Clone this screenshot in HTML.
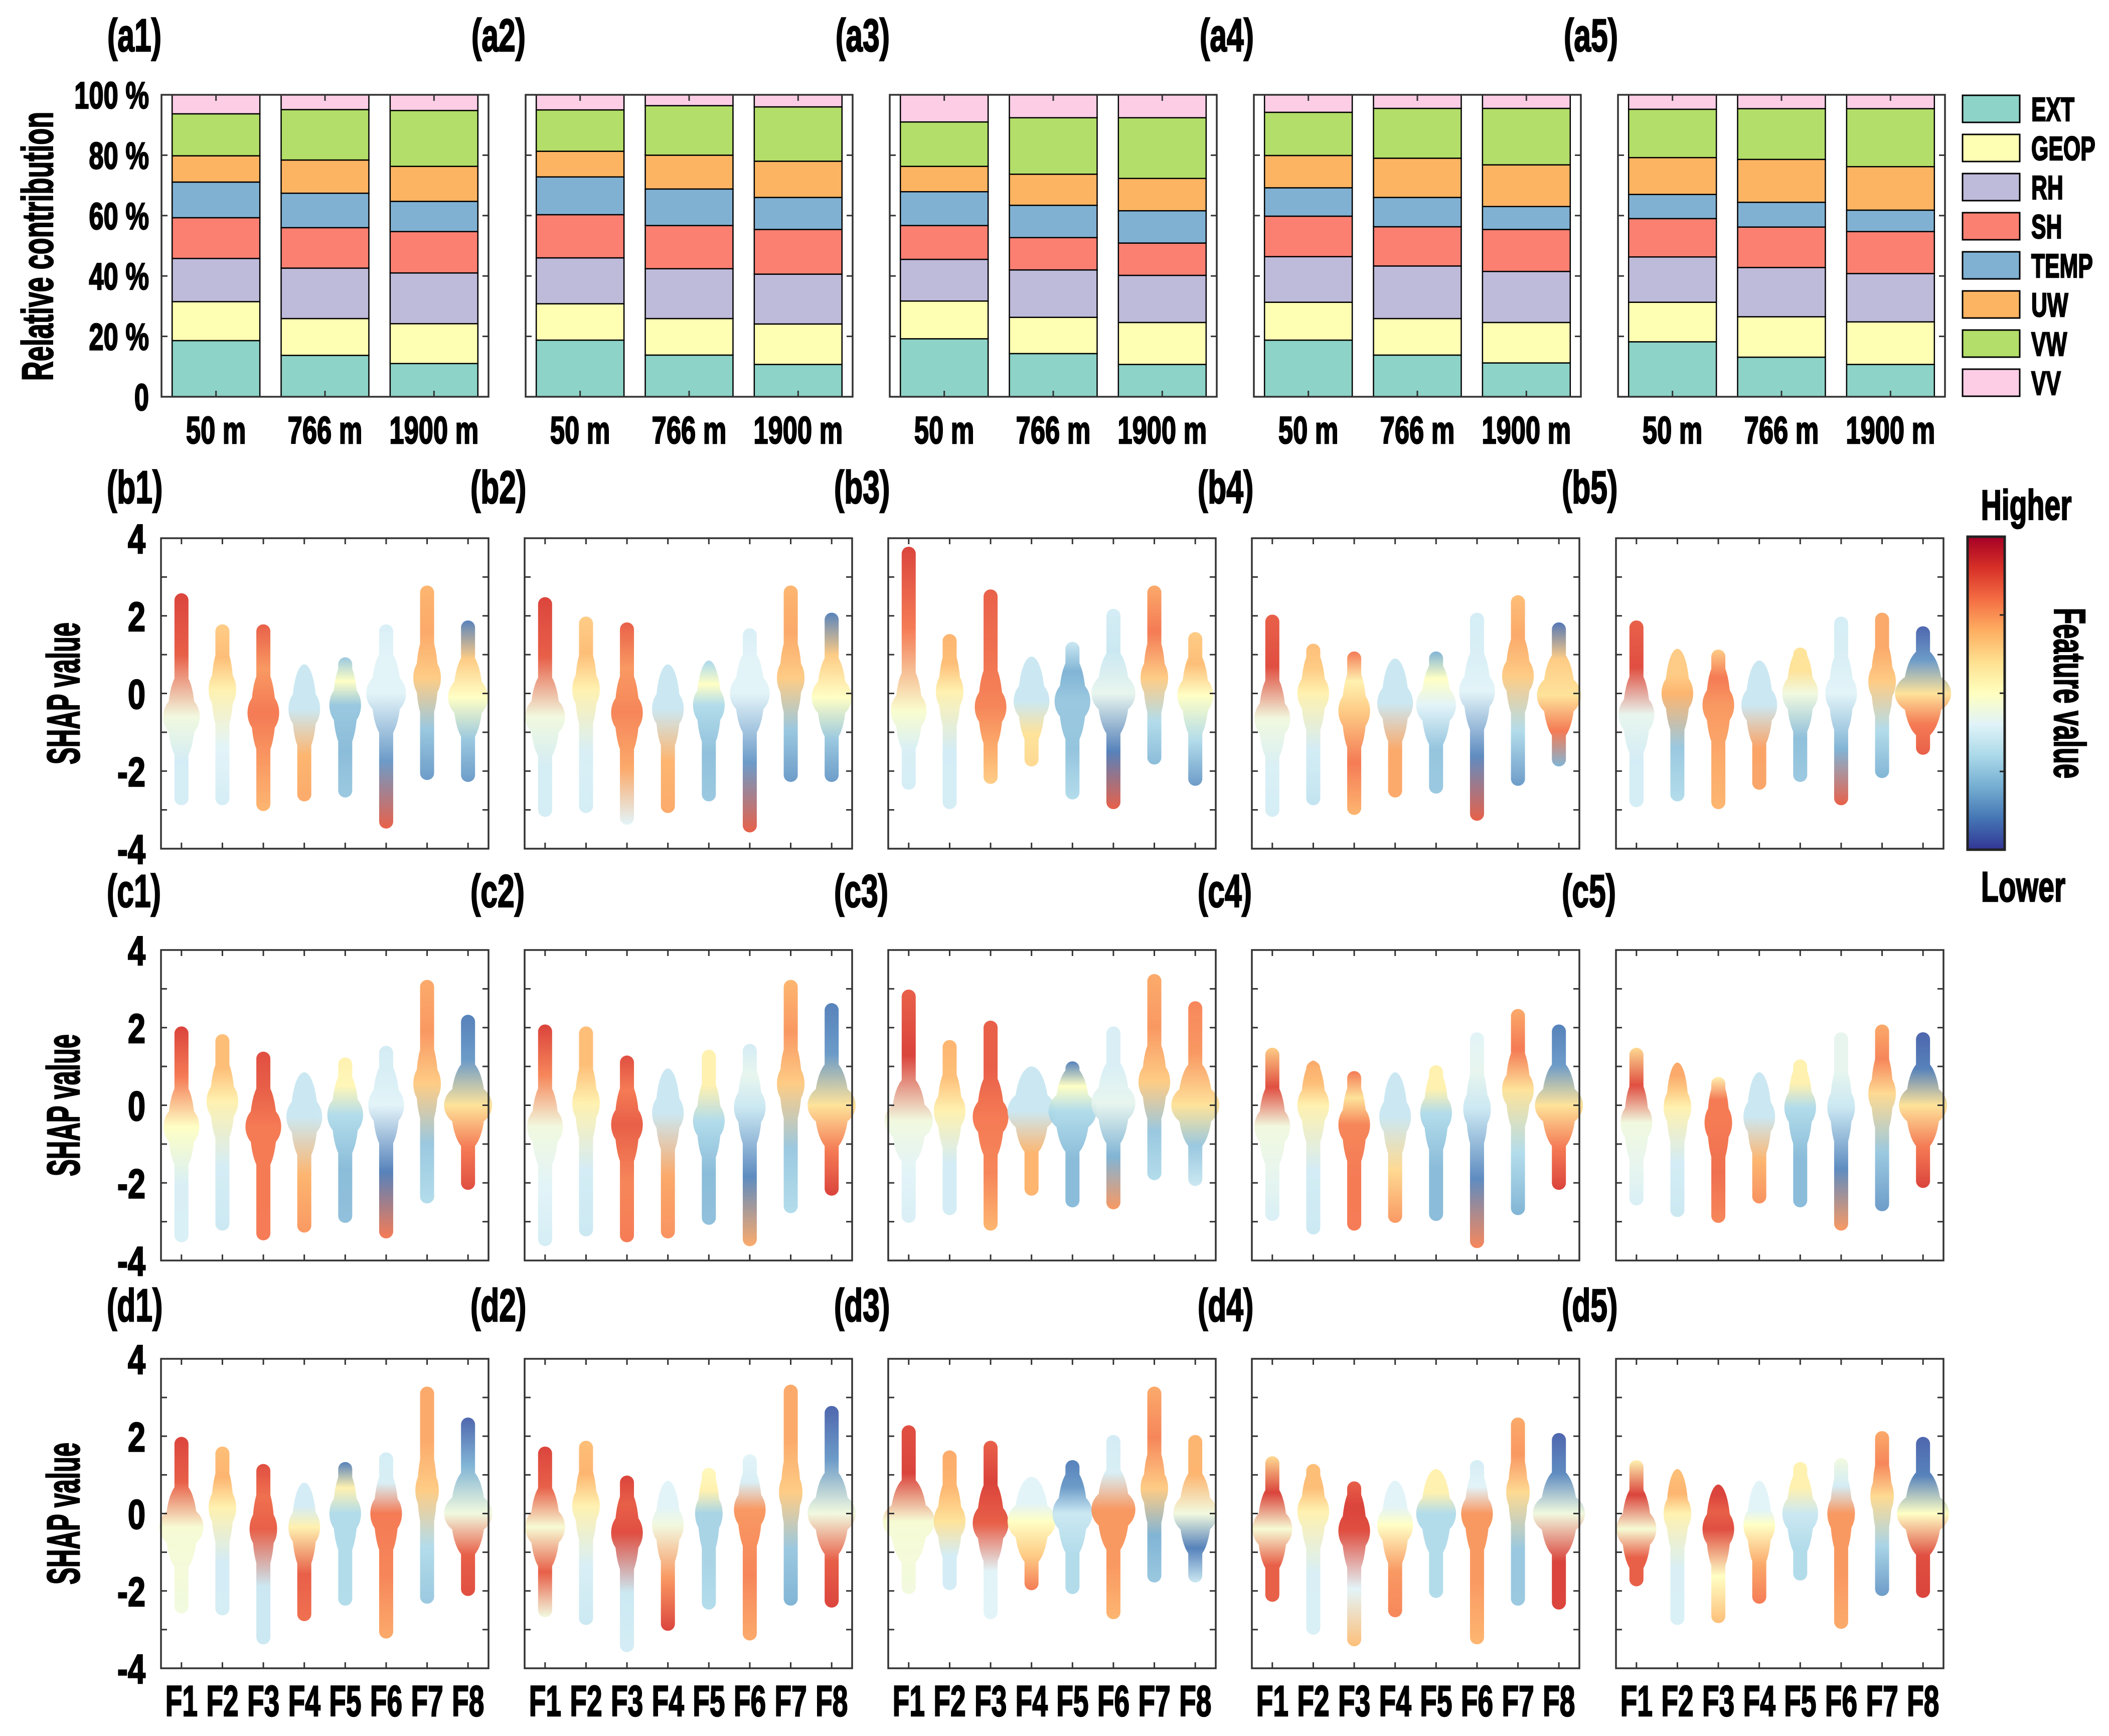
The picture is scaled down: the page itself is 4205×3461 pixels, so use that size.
<!DOCTYPE html>
<html><head><meta charset="utf-8"><style>
html,body{margin:0;padding:0;background:#fff;}
svg{display:block;}
text{font-family:"Liberation Sans",sans-serif;font-weight:bold;fill:#000;stroke:#000;stroke-width:2.5;}
</style></head><body>
<svg id="fig" xmlns="http://www.w3.org/2000/svg" width="4205" height="3461" viewBox="0 0 4205 3461"></svg>
<script>
// ---------- DATA ----------
const heights = ["50 m","766 m","1900 m"];
const legendLabels = ["EXT","GEOP","RH","SH","TEMP","UW","VW","VV"];
const legendColors = ["#8dd3c7","#ffffb3","#bebada","#fb8072","#80b1d3","#fdb462","#b3de69","#fccde5"];
const pctTicks = ["0","20 %","40 %","60 %","80 %","100 %"];
const shapTicks = ["-4","-2","0","2","4"];
const featureLabels = ["F1","F2","F3","F4","F5","F6","F7","F8"];
// cumulative percent tops per height (EXT..VV)
const cumA1 = [[18.6,31.5,45.8,59.3,71.1,79.8,93.7,100],[13.7,25.9,42.6,56.0,67.4,78.4,95.1,100],[11.0,24.2,41.0,54.7,64.7,76.3,94.8,100]];
const cumA2 = [[18.75,30.8,46,60.3,72.8,81.3,95,100],[13.8,25.9,42.4,56.7,68.8,80,96.4,100],[10.7,24.1,40.6,55.4,66,78,96,100]];
const cumA3 = [[19.2,31.7,45.5,56.7,67.9,76.3,91,100],[14.3,26.3,42,52.7,63.4,73.7,92.4,100],[10.7,24.6,40.2,50.9,61.6,72.3,92.4,100]];
const cumA4 = [[18.75,31.3,46.4,59.8,69.2,79.9,94.2,100],[13.8,25.9,43.3,56.3,66,79,95.5,100],[11.2,24.6,41.5,55.4,63,76.8,95.5,100]];
const cumA5 = [[18.2,31.3,46.3,59,67,79.2,95.2,100],[13.1,26.5,42.8,56.2,64.4,78.6,95.4,100],[10.7,24.8,40.8,54.7,61.8,76.2,95.4,100]];
// SHAP columns: [max, min, bulge centre, bulge half-width (feature units), feature value top, upper, centre, lower, bottom]
const shapB1 = [[2.4,-2.7,-0.6,0.41,0.9,0.85,0.45,0.37,0.37],[1.6,-2.7,0.1,0.3,0.65,0.68,0.55,0.4,0.37],[1.6,-2.85,-0.5,0.35,0.85,0.75,0.8,0.75,0.7],[0.4,-2.6,-0.4,0.35,0.35,0.35,0.35,0.7,0.72],[0.75,-2.5,-0.3,0.35,0.25,0.5,0.25,0.22,0.25],[1.6,-3.3,0,0.45,0.38,0.4,0.4,0.15,0.85],[2.6,-2.05,0.4,0.3,0.7,0.72,0.65,0.25,0.15],[1.7,-2.1,-0.1,0.45,0.1,0.65,0.5,0.25,0.15]];
const shapB2 = [[2.3,-3.0,-0.6,0.45,0.9,0.85,0.45,0.37,0.37],[1.8,-2.9,0.1,0.3,0.65,0.68,0.55,0.38,0.37],[1.65,-3.2,-0.5,0.35,0.85,0.75,0.78,0.72,0.4],[0.3,-2.9,-0.4,0.35,0.35,0.35,0.35,0.7,0.72],[0.6,-2.6,-0.3,0.35,0.3,0.5,0.3,0.23,0.25],[1.5,-3.4,0,0.45,0.38,0.4,0.4,0.15,0.85],[2.6,-2.1,0.4,0.3,0.7,0.72,0.65,0.25,0.15],[1.9,-2.1,-0.1,0.45,0.1,0.65,0.5,0.25,0.15]];
const shapB3 = [[3.6,-2.3,-0.45,0.4,0.9,0.8,0.48,0.38,0.37],[1.35,-2.8,0.05,0.3,0.7,0.68,0.55,0.37,0.37],[2.5,-2.15,-0.35,0.35,0.85,0.82,0.78,0.72,0.65],[0.45,-1.7,-0.2,0.4,0.35,0.35,0.35,0.6,0.62],[1.15,-2.55,-0.2,0.4,0.35,0.2,0.25,0.24,0.3],[2.0,-2.8,0,0.5,0.37,0.35,0.42,0.1,0.85],[2.6,-1.65,0.4,0.3,0.72,0.8,0.65,0.3,0.22],[1.4,-2.2,-0.05,0.4,0.65,0.68,0.5,0.3,0.15]];
const shapB4 = [[1.85,-3.0,-0.65,0.4,0.85,0.88,0.45,0.38,0.37],[1.1,-2.7,0,0.35,0.68,0.65,0.55,0.37,0.33],[0.9,-2.95,-0.45,0.35,0.8,0.55,0.65,0.8,0.7],[0.45,-2.5,-0.25,0.4,0.35,0.35,0.35,0.72,0.72],[0.9,-2.4,-0.3,0.45,0.2,0.5,0.4,0.24,0.25],[1.9,-3.1,0.05,0.4,0.37,0.38,0.4,0.12,0.85],[2.35,-2.2,0.45,0.35,0.68,0.72,0.65,0.3,0.15],[1.65,-1.7,-0.05,0.5,0.08,0.65,0.6,0.8,0.2]];
const shapB5 = [[1.7,-2.75,-0.55,0.4,0.85,0.88,0.42,0.37,0.37],[0.8,-2.6,0,0.35,0.65,0.65,0.7,0.25,0.3],[0.95,-2.8,-0.3,0.35,0.65,0.8,0.75,0.72,0.7],[0.4,-2.3,-0.3,0.4,0.35,0.35,0.35,0.73,0.73],[1.0,-2.1,0,0.4,0.6,0.6,0.45,0.23,0.25],[1.8,-2.7,0,0.35,0.37,0.38,0.4,0.2,0.85],[1.9,-2.0,0.3,0.3,0.72,0.72,0.65,0.3,0.2],[1.55,-1.4,0,0.65,0.05,0.15,0.6,0.8,0.85]];
const shapC1 = [[1.85,-3.35,-0.55,0.4,0.9,0.8,0.5,0.38,0.38],[1.65,-3.05,0.1,0.35,0.68,0.68,0.55,0.37,0.35],[1.2,-3.3,-0.55,0.4,0.88,0.85,0.8,0.8,0.8],[0.45,-3.1,-0.3,0.4,0.35,0.35,0.35,0.7,0.75],[1.05,-2.85,-0.25,0.4,0.55,0.53,0.3,0.22,0.23],[1.35,-3.25,0,0.4,0.37,0.38,0.4,0.1,0.8],[3.05,-2.35,0.55,0.3,0.72,0.75,0.65,0.25,0.3],[2.15,-2.0,0,0.55,0.1,0.15,0.6,0.8,0.88]];
const shapC2 = [[1.9,-3.45,-0.55,0.4,0.9,0.78,0.45,0.4,0.37],[1.85,-3.2,0.05,0.3,0.68,0.68,0.55,0.37,0.35],[1.1,-3.35,-0.5,0.35,0.88,0.8,0.85,0.78,0.8],[0.4,-3.25,-0.2,0.35,0.35,0.35,0.35,0.72,0.76],[1.25,-2.9,-0.4,0.35,0.55,0.55,0.3,0.22,0.23],[1.4,-3.45,-0.05,0.35,0.37,0.42,0.35,0.12,0.72],[3.05,-2.6,0.55,0.3,0.7,0.75,0.65,0.25,0.3],[2.45,-2.15,0,0.55,0.1,0.15,0.6,0.8,0.9]];
const shapC3 = [[2.8,-2.85,-0.4,0.55,0.85,0.9,0.45,0.4,0.38],[1.5,-2.65,-0.15,0.35,0.7,0.68,0.55,0.37,0.37],[2.0,-3.05,-0.3,0.4,0.85,0.85,0.8,0.78,0.7],[0.6,-2.15,-0.15,0.55,0.35,0.35,0.35,0.7,0.7],[0.95,-2.45,-0.15,0.55,0.1,0.5,0.3,0.22,0.22],[1.85,-2.5,0.05,0.5,0.38,0.38,0.42,0.2,0.75],[3.2,-1.75,0.6,0.35,0.72,0.75,0.65,0.25,0.3],[2.5,-1.9,0,0.55,0.78,0.75,0.6,0.25,0.35]];
const shapC4 = [[1.3,-2.8,-0.55,0.4,0.65,0.88,0.45,0.42,0.38],[0.95,-3.15,0,0.35,0.72,0.68,0.55,0.37,0.35],[0.7,-3.05,-0.5,0.35,0.8,0.6,0.78,0.8,0.8],[0.5,-2.85,-0.3,0.35,0.35,0.35,0.35,0.62,0.75],[0.85,-2.8,-0.2,0.35,0.55,0.55,0.3,0.22,0.22],[1.7,-3.5,-0.1,0.3,0.4,0.42,0.35,0.12,0.78],[2.3,-2.65,0.4,0.35,0.72,0.8,0.6,0.3,0.2],[1.9,-2.0,0,0.55,0.1,0.15,0.6,0.8,0.9]];
const shapC5 = [[1.3,-2.4,-0.45,0.35,0.62,0.88,0.45,0.42,0.38],[0.6,-2.7,-0.05,0.3,0.72,0.65,0.55,0.37,0.35],[0.55,-2.85,-0.45,0.3,0.55,0.8,0.8,0.82,0.78],[0.4,-2.35,-0.3,0.35,0.35,0.35,0.35,0.7,0.76],[1.0,-2.45,-0.05,0.35,0.55,0.55,0.3,0.22,0.22],[1.7,-3.05,-0.05,0.3,0.42,0.42,0.35,0.12,0.75],[1.9,-2.55,0.3,0.3,0.72,0.78,0.62,0.25,0.15],[1.7,-1.95,0,0.55,0.05,0.1,0.6,0.8,0.9]];
const shapD1 = [[1.8,-2.4,-0.35,0.5,0.9,0.85,0.47,0.46,0.45],[1.55,-2.45,0.15,0.3,0.68,0.7,0.55,0.37,0.37],[1.1,-3.2,-0.4,0.3,0.88,0.82,0.85,0.35,0.35],[0.55,-2.6,-0.35,0.35,0.37,0.37,0.55,0.85,0.82],[1.15,-2.2,0,0.35,0.1,0.55,0.3,0.3,0.3],[1.4,-3.05,0,0.35,0.37,0.38,0.8,0.78,0.72],[3.1,-2.15,0.6,0.25,0.72,0.72,0.65,0.3,0.25],[2.3,-1.95,0,0.55,0.05,0.2,0.45,0.85,0.88]];
const shapD2 = [[1.55,-2.5,-0.35,0.45,0.9,0.85,0.47,0.85,0.45],[1.7,-2.7,0.2,0.3,0.68,0.7,0.55,0.38,0.35],[0.8,-3.4,-0.5,0.35,0.9,0.85,0.88,0.35,0.37],[0.45,-2.85,-0.3,0.35,0.4,0.4,0.45,0.75,0.9],[1.0,-2.3,0,0.3,0.52,0.55,0.28,0.28,0.3],[1.35,-3.1,0.1,0.35,0.4,0.38,0.75,0.78,0.72],[3.15,-2.2,0.55,0.25,0.72,0.72,0.65,0.25,0.2],[2.6,-2.25,0,0.55,0.05,0.15,0.45,0.85,0.9]];
const shapD3 = [[2.1,-1.9,-0.2,0.6,0.88,0.9,0.47,0.46,0.45],[1.45,-1.8,-0.2,0.35,0.72,0.7,0.6,0.37,0.37],[1.7,-2.55,-0.25,0.4,0.85,0.9,0.85,0.4,0.4],[0.55,-1.8,-0.2,0.55,0.4,0.4,0.5,0.65,0.8],[1.2,-1.9,0,0.45,0.1,0.15,0.35,0.3,0.3],[1.85,-2.55,0.1,0.5,0.37,0.38,0.75,0.75,0.7],[3.1,-1.6,0.65,0.3,0.72,0.78,0.65,0.2,0.25],[1.85,-1.6,0,0.5,0.7,0.7,0.45,0.1,0.35]];
const shapD4 = [[1.3,-2.1,-0.4,0.45,0.62,0.9,0.47,0.85,0.85],[1.1,-2.95,0.05,0.35,0.68,0.68,0.55,0.38,0.38],[0.65,-3.25,-0.45,0.35,0.85,0.9,0.88,0.4,0.68],[0.5,-2.5,-0.3,0.4,0.4,0.4,0.5,0.75,0.78],[0.9,-2.0,0,0.45,0.55,0.55,0.3,0.3,0.3],[1.2,-3.2,0,0.35,0.37,0.4,0.75,0.75,0.7],[2.3,-2.2,0.55,0.25,0.72,0.75,0.62,0.25,0.25],[1.9,-2.3,0,0.6,0.05,0.12,0.45,0.9,0.9]];
const shapD5 = [[1.2,-1.7,-0.4,0.45,0.55,0.9,0.47,0.85,0.85],[0.85,-2.7,0,0.3,0.68,0.7,0.55,0.38,0.38],[0.3,-2.65,-0.4,0.35,0.9,0.85,0.88,0.5,0.68],[0.3,-2.15,-0.3,0.35,0.4,0.4,0.5,0.72,0.8],[1.15,-1.55,0,0.4,0.55,0.55,0.35,0.3,0.3],[1.25,-2.8,0,0.3,0.45,0.37,0.75,0.75,0.72],[1.95,-1.95,0.45,0.25,0.72,0.78,0.62,0.28,0.15],[1.8,-2.0,0,0.6,0.05,0.1,0.5,0.88,0.9]];

// ---------- LAYOUT ----------
const NS = "http://www.w3.org/2000/svg";
const svg = document.getElementById("fig");
const defs = document.createElementNS(NS,"defs");
svg.appendChild(defs);
const aLefts = [322,1048,1774,2500,3226], aW = 652, aTop = 189, aBot = 791;
const sLefts = [321,1046,1771,2496,3222], sW = 653;
const sRows = [[1073,1692],[1894,2513],[2709,3326]];
const labelCy = [78,979,1784,2610];
const rowLetters = ["a","b","c","d"];

function mk(tag, attrs, parent){
  const e = document.createElementNS(NS, tag);
  for (const k in attrs) e.setAttribute(k, attrs[k]);
  (parent||svg).appendChild(e);
  return e;
}
function txt(str, x, y, size, sx, anchor, parent, rot){
  let tr = "translate("+x+","+y+")";
  if (rot) tr += " rotate("+rot+")";
  tr += " scale("+sx+",1)";
  const t = mk("text",{transform:tr,"font-size":size,"text-anchor":anchor||"middle"},parent);
  t.textContent = str;
  return t;
}
const cmapStops = ["#313695","#4575b4","#74add1","#abd9e9","#e0f3f8","#ffffbf","#fee090","#fdae61","#f46d43","#d73027","#a50026"];
function hex2rgb(h){return [parseInt(h.substr(1,2),16),parseInt(h.substr(3,2),16),parseInt(h.substr(5,2),16)];}
function cmap(v){
  v = Math.max(0,Math.min(1,v));
  const p = v*10, i = Math.min(9,Math.floor(p)), f = p-i;
  const a = hex2rgb(cmapStops[i]), b = hex2rgb(cmapStops[i+1]);
  return "rgb("+a.map((c,k)=>Math.round(c+(b[k]-c)*f)).join(",")+")";
}

// ---------- PANEL LABELS ----------
for (let r=0;r<4;r++){
  for (let p=0;p<5;p++){
    const lx = (r===0?aLefts[p]:sLefts[p]) - 108;
    const t = txt("("+rowLetters[r]+(p+1)+")", lx, labelCy[r]+24, 92, 0.66, "start");
    
    
    t.setAttribute('stroke-width', '5');
  }
}

// ---------- ROW A: stacked bars ----------
const cumA = [cumA1,cumA2,cumA3,cumA4,cumA5];
function ay(v){ return aBot - v/100*(aBot-aTop); }
for (let p=0;p<5;p++){
  const L = aLefts[p];
  const g = mk("g",{});
  
  
  const unit = aW/3;
  for (let h=0;h<3;h++){
    const cx = L + (h+0.5)*unit, bw = 0.805*unit;
    let prev = 0;
    for (let k=0;k<8;k++){
      const top = cumA[p][h][k];
      const rect = mk("rect",{x:cx-bw/2,y:ay(top),width:bw,height:ay(prev)-ay(top),fill:legendColors[k],stroke:"#000","stroke-width":2.5},g);
      
      
      prev = top;
    }
    const xl = txt(heights[h], cx, 884, 76, 0.69, "middle", g);
    
    
    mk("line",{x1:cx,x2:cx,y1:aTop,y2:aTop+12,stroke:"#333","stroke-width":3},g);
    mk("line",{x1:cx,x2:cx,y1:aBot,y2:aBot-12,stroke:"#333","stroke-width":3},g);
  }
  for (let i=1;i<5;i++){
    const y = ay(i*20);
    mk("line",{x1:L,x2:L+12,y1:y,y2:y,stroke:"#333","stroke-width":3},g);
    mk("line",{x1:L+aW,x2:L+aW-12,y1:y,y2:y,stroke:"#333","stroke-width":3},g);
  }
  const box = mk("rect",{x:L,y:aTop,width:aW,height:aBot-aTop,fill:"none",stroke:"#333","stroke-width":3.5},g);
  
  
  if (p===0){
    for (let i=0;i<6;i++){
      const t = txt(pctTicks[i], 297, ay(i*20)+27, 75, 0.7, "end", g);
      
      
    }
    const yt = txt("Relative contribution", 105, 491, 87, 0.62, "middle", g, -90);
    
    
  }
}
// legend
for (let k=0;k<8;k++){
  const y = 190 + k*78;
  const r = mk("rect",{x:3913,y:y,width:114,height:54,fill:legendColors[k],stroke:"#000","stroke-width":3});
  
  
  const t = txt(legendLabels[k], 4050, y+51, 67, 0.66, "start");
  
  
}

// ---------- ROWS B-D: SHAP summaries ----------
const shapRows = [[shapB1,shapB2,shapB3,shapB4,shapB5],[shapC1,shapC2,shapC3,shapC4,shapC5],[shapD1,shapD2,shapD3,shapD4,shapD5]];
let gid = 0;
for (let r=0;r<3;r++){
  const top = sRows[r][0], bot = sRows[r][1];
  const ys = v => top + (4-v)*(bot-top)/8;
  const uy = (bot-top)/8;
  for (let p=0;p<5;p++){
    const L = sLefts[p], ux = sW/8;
    const xs = f => L + (f+0.5)*ux;
    const g = mk("g",{});
    
    
    const cols = shapRows[r][p];
    for (let f=0;f<8;f++){
      const c = cols[f];
      const rad = 14;
      const yHi = ys(c[0]) - rad, yLo = ys(c[1]) + rad, yMid = ys(c[2]);
      const id = "gr"+(gid++);
      const lg = mk("linearGradient",{id:id,gradientUnits:"userSpaceOnUse",x1:0,y1:yHi,x2:0,y2:yLo},defs);
      const span = yLo-yHi;
      const offs = [0,((yHi+yMid)/2-yHi)/span,(yMid-yHi)/span,((yMid+yLo)/2-yHi)/span,1];
      for (let s=0;s<5;s++){
        mk("stop",{offset:Math.max(0,Math.min(1,offs[s])),"stop-color":cmap(c[4+s])},lg);
      }
      const cg = mk("g",{opacity:0.9},g);
      
      
      const cx = xs(f);
      mk("rect",{x:cx-rad,y:yHi,width:2*rad,height:span,rx:rad,fill:"url(#"+id+")"},cg);
      mk("ellipse",{cx:cx,cy:yMid,rx:Math.max(rad,0.6*c[3]*ux+7),ry:1.15*uy,fill:"url(#"+id+")"},cg);
      mk("ellipse",{cx:cx,cy:yMid,rx:Math.max(rad,c[3]*ux+3),ry:0.55*uy,fill:"url(#"+id+")"},cg);
      mk("line",{x1:cx,x2:cx,y1:top,y2:top+12,stroke:"#333","stroke-width":3},g);
      mk("line",{x1:cx,x2:cx,y1:bot,y2:bot-12,stroke:"#333","stroke-width":3},g);
    }
    for (let v=-3;v<=3;v++){
      const y = ys(v);
      mk("line",{x1:L,x2:L+12,y1:y,y2:y,stroke:"#333","stroke-width":3},g);
      mk("line",{x1:L+sW,x2:L+sW-12,y1:y,y2:y,stroke:"#333","stroke-width":3},g);
    }
    const box = mk("rect",{x:L,y:top,width:sW,height:bot-top,fill:"none",stroke:"#333","stroke-width":3.5},g);
    
    
    if (p===0){
      for (let i=0;i<5;i++){
        const t = txt(shapTicks[i], 290, ys(-4+2*i)+30, 83, 0.76, "end", g);
        
        
      }
      const yt = txt("SHAP value", 158, (top+bot)/2, 92, 0.55, "middle", g, -90);
      
      
    }
    if (r===2){
      for (let f=0;f<8;f++){
        const t = txt(featureLabels[f], xs(f), 3421, 86, 0.64, "middle", g);
        
        
      }
    }
  }
}

// ---------- COLORBAR ----------
const cbg = mk("linearGradient",{id:"cbgrad",x1:0,y1:1,x2:0,y2:0},defs);
for (let i=0;i<=10;i++) mk("stop",{offset:i/10,"stop-color":cmapStops[i]},cbg);
const cb = mk("rect",{x:3923,y:1070,width:74,height:624,fill:"url(#cbgrad)",stroke:"#222","stroke-width":5});


for (let i=1;i<4;i++){
  const y = 1070 + i*156;
  mk("line",{x1:3997,x2:3987,y1:y,y2:y,stroke:"#222","stroke-width":3});
}
const hi = txt("Higher", 4040, 1036, 84, 0.68, "middle");


const lo = txt("Lower", 4034, 1797, 84, 0.68, "middle");


const fv = txt("Feature value", 4096, 1382, 88, 0.6, "middle", null, 90);


</script>
</body></html>
